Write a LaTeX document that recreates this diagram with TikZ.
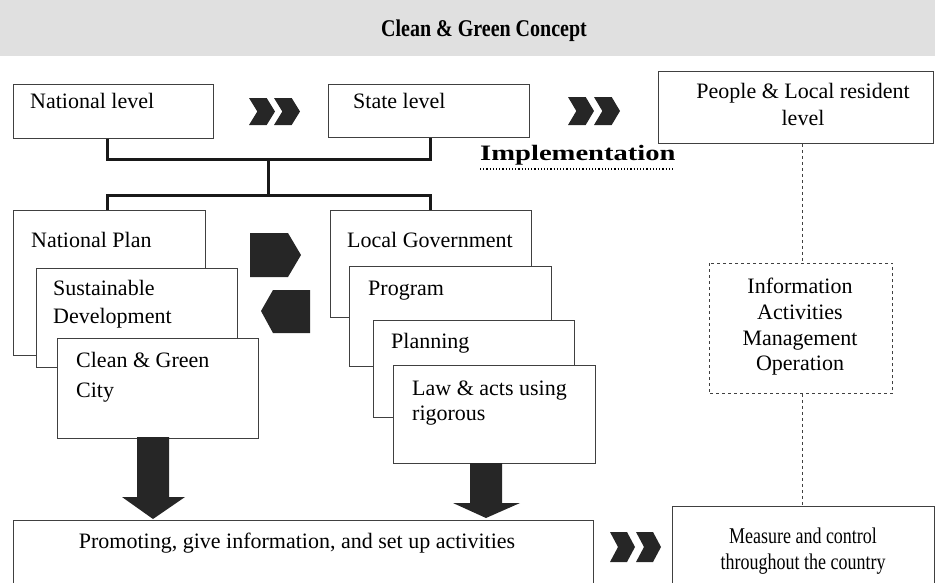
\documentclass[tikz,border=0pt]{standalone}
\usepackage{fontspec}
\setmainfont{Liberation Serif}
\usepackage{graphicx}
\begin{document}
\begin{tikzpicture}[x=1pt,y=-1pt,
  box/.style={draw=black!75, line width=0.8pt, fill=white, anchor=north west, inner sep=0pt},
  txt/.style={anchor=base west, inner sep=0pt, font=\fontsize{22}{26}\selectfont},
  ctxt/.style={anchor=base, inner sep=0pt, font=\fontsize{22}{26}\selectfont},
  stxt/.style={anchor=base, inner sep=0pt, font=\fontsize{18}{22}\selectfont},
  bracket/.style={line width=3pt, draw=black!90},
  dashline/.style={draw=black!75, line width=0.9pt, dash pattern=on 3pt off 3pt},
  chev/.pic={\fill[black!85] (0,0) -- (0.68,0) -- (1,0.5) -- (0.68,1) -- (0,1) -- (0.32,0.5) -- cycle;}]
\useasboundingbox (0,0) rectangle (935,582);
\clip (0,0) rectangle (935,582);
% title band
\fill[black!12] (0,0) rectangle (935,56);
\node[anchor=base, inner sep=0pt, font=\bfseries\fontsize{20}{24}\selectfont] (title) at (484,36) {\scalebox{1}[1.2]{Clean \& Green Concept}};
% top level boxes
\node[box, minimum width=200pt, minimum height=54pt] (nl) at (13,84) {};
\node[txt] (nlt) at (30,108) {National level};
\node[box, minimum width=201pt, minimum height=53pt] (sl) at (328,84) {};
\node[txt] (slt) at (353,108) {State level};
\node[box, minimum width=275pt, minimum height=72pt] (pl) at (658,71) {};
\node[ctxt] (plt1) at (803,98) {People \& Local resident};
\node[ctxt] (plt2) at (803,125) {level};
% chevrons top
\pic[xscale=26,yscale=27] (c1a) at (249,98) {chev};
\pic[xscale=26,yscale=27] (c1b) at (274,98) {chev};
\pic[xscale=26,yscale=28] (c2a) at (568,97) {chev};
\pic[xscale=26,yscale=28] (c2b) at (594,97) {chev};
% implementation
\node[anchor=base west, inner sep=0pt, font=\bfseries\fontsize{22}{26}\selectfont] (impl) at (480,160) {\scalebox{1.3}[1]{Implementation}};
\draw[dotted, line width=1.2pt] (impl.base west) ++(0,9) -- ++(195,0);
% left stack
\node[box, minimum width=192pt, minimum height=145pt] (np) at (13,210) {};
\node[txt] (npt) at (31,247) {National Plan};
\node[box, minimum width=201pt, minimum height=99pt] (sd) at (36,268) {};
\node[txt] (sdt1) at (53,295) {Sustainable};
\node[txt] (sdt2) at (53,323) {Development};
\node[box, minimum width=201pt, minimum height=100pt] (cg) at (57,338) {};
\node[txt] (cgt1) at (76,367) {Clean \& Green};
\node[txt] (cgt2) at (76,397) {City};
% right stack
\node[box, minimum width=201pt, minimum height=107pt] (lg) at (330,210) {};
\node[txt] (lgt) at (347,247) {Local Government};
\node[box, minimum width=202pt, minimum height=100pt] (pg) at (349,266) {};
\node[txt] (pgt) at (368,295) {Program};
\node[box, minimum width=201pt, minimum height=97pt] (pn) at (373,320) {};
\node[txt] (pnt) at (391,348) {Planning};
\node[box, minimum width=202pt, minimum height=98pt] (la) at (393,365) {};
\node[txt] (lat1) at (412,395) {Law \& acts using};
\node[txt] (lat2) at (412,420) {rigorous};
% bracket
\coordinate (ja) at (107,159); \coordinate (jb) at (430,159); \coordinate (jm) at (268,159);
\coordinate (ka) at (107,195); \coordinate (kb) at (430,195); \coordinate (km) at (268,195);
\draw[bracket] (nl.south -| ja) -- (ja) -- (jb) -- (sl.south -| jb);
\draw[bracket] (jm) -- (km);
\draw[bracket] (np.north -| ka) -- (ka) -- (kb) -- (lg.north -| kb);
% pentagons
\fill[black!85] (250,233) -- (288,233) -- (301,255) -- (288,277) -- (250,277) -- cycle;
\fill[black!85] (273,290) -- (310,290) -- (310,333) -- (273,333) -- (261,311) -- cycle;
% dashed info box
\node[box, draw=none, minimum width=183pt, minimum height=130pt] (info) at (709,263) {};
\draw[dashline] (info.north west) rectangle (info.south east);
\node[ctxt] (it1) at (800,293) {Information};
\node[ctxt] (it2) at (800,319) {Activities};
\node[ctxt] (it3) at (800,345) {Management};
\node[ctxt] (it4) at (800,370) {Operation};
% bottom boxes
\node[box, minimum width=580pt, minimum height=80pt] (prom) at (13,520) {};
\node[ctxt] (promt) at (297,548) {Promoting, give information, and set up activities};
\node[box, minimum width=262pt, minimum height=90pt] (meas) at (672,506) {};
\node[stxt] (meast1) at (803,543) {\scalebox{1}[1.25]{Measure and control}};
\node[stxt] (meast2) at (803,569) {\scalebox{1}[1.25]{throughout the country}};
% dashed connectors
\coordinate (dl) at (802,0);
\draw[dashline] (pl.south -| dl) -- (info.north -| dl);
\draw[dashline] (info.south -| dl) -- (meas.north -| dl);
% down arrows
\fill[black!85] (137,437) -- (169,437) -- (169,497) -- (185,497) -- (153,519) -- (122,497) -- (137,497) -- cycle;
\fill[black!85] (470,463) -- (502,463) -- (502,503) -- (520,503) -- (486,518) -- (453,503) -- (470,503) -- cycle;
% bottom chevrons
\pic[xscale=25,yscale=30] (c3a) at (610,532) {chev};
\pic[xscale=25,yscale=30] (c3b) at (636,532) {chev};
\end{tikzpicture}
\end{document}
